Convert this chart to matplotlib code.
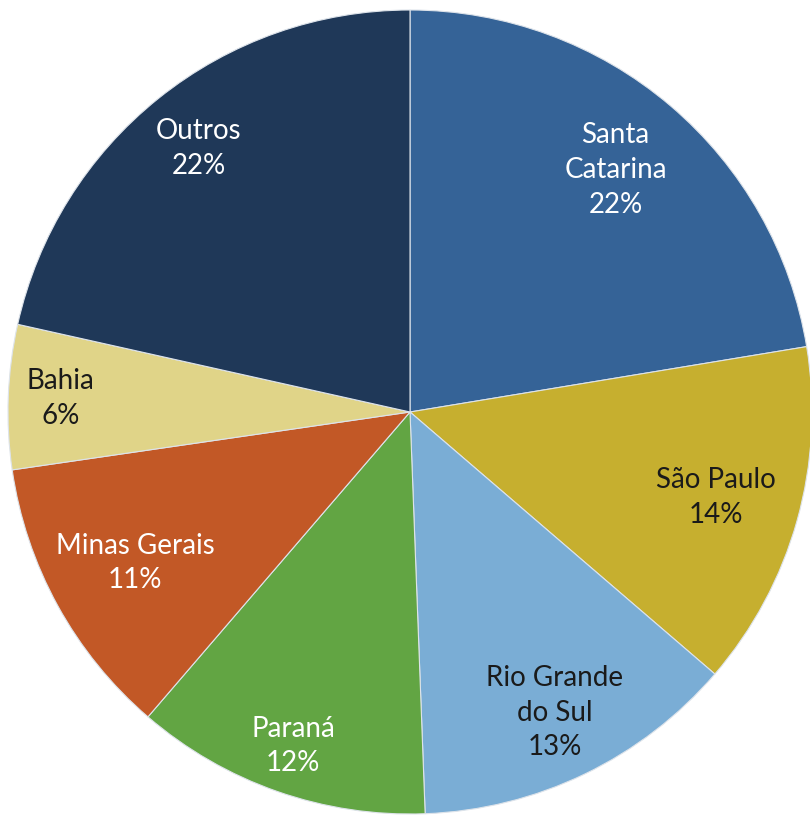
import numpy as np
import matplotlib
matplotlib.use("Agg")
import matplotlib.pyplot as plt

plt.rcParams['font.family'] = ['Lato', 'DejaVu Sans']

# share per state
states = ["Santa\nCatarina", "São Paulo", "Rio Grande\ndo Sul", "Paraná",
          "Minas Gerais", "Bahia", "Outros"]
shares = [22.4, 13.9, 13.1, 11.9, 11.4, 5.8, 21.5]
pct_labels = ["22%", "14%", "13%", "12%", "11%", "6%", "22%"]
colors = ["#356397", "#C6AF2F", "#7AADD5", "#62A543", "#C25826", "#E0D488", "#1F3858"]
text_colors = ["white", "#1a1a1a", "#1a1a1a", "white", "white", "#1a1a1a", "white"]
# how far out each label sits (fraction of radius)
label_r = [0.79, 0.79, 0.83, 0.88, 0.78, 0.87, 0.84]

fig = plt.figure(figsize=(8.1, 8.15), dpi=100)
ax = fig.add_axes([0, 0, 1, 1])

wedges, _ = ax.pie(shares, colors=colors, startangle=90, counterclock=False,
                   radius=1.0, wedgeprops=dict(edgecolor="#dde3ea", linewidth=0.8))

# labels inside each slice
for w, name, pct, tc, r in zip(wedges, states, pct_labels, text_colors, label_r):
    mid = np.deg2rad((w.theta1 + w.theta2) / 2)
    ax.text(r * np.cos(mid), r * np.sin(mid), name + "\n" + pct,
            ha="center", va="center", color=tc, fontsize=20, linespacing=1.42)

R = 402.0
ax.set_xlim(-410 / R, 400 / R)
ax.set_ylim(-403 / R, 412 / R)
ax.set_aspect("equal", adjustable="datalim")
ax.axis("off")

fig.savefig("out.png", dpi=100, facecolor="white")
